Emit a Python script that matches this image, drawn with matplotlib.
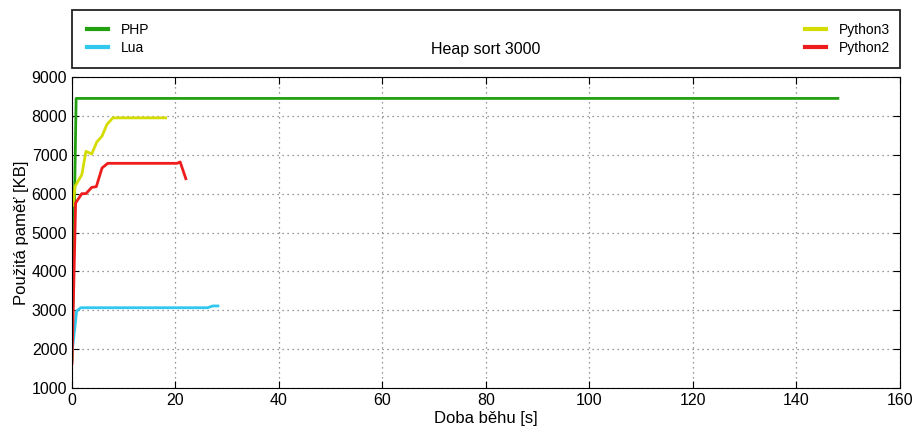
import matplotlib
matplotlib.use("Agg")
import matplotlib.pyplot as plt
from matplotlib.patches import Rectangle

plt.rcParams['font.family'] = ['Liberation Sans', 'DejaVu Sans']

# runtime [s] vs used memory [KB]
php_t = [0.0, 0.8, 148.0]
php_m = [1700, 8450, 8450]

lua_t = [0.1, 0.9, 1.7, 26.2, 27.2, 28.2]
lua_m = [2010, 2980, 3065, 3065, 3110, 3110]

py3_t = [0.2, 0.6, 1.9, 2.7, 3.8, 4.8, 5.8, 6.75, 7.9, 18.1]
py3_m = [5700, 6190, 6490, 7090, 7020, 7330, 7480, 7780, 7950, 7950]

py2_t = [0.0, 0.7, 1.9, 2.7, 3.8, 4.7, 5.8, 6.9, 20.3, 20.9, 22.0]
py2_m = [1630, 5760, 6000, 6000, 6160, 6180, 6660, 6780, 6780, 6815, 6385]

fig = plt.figure(figsize=(9.16, 4.28), dpi=100)
ax = fig.add_axes([0.0786, 0.0935, 0.9039, 0.7265])

l_php, = ax.plot(php_t, php_m, color='#22a010', lw=2, label='PHP')
l_lua, = ax.plot(lua_t, lua_m, color='#30c8ee', lw=2, label='Lua')
l_py3, = ax.plot(py3_t, py3_m, color='#d4dc00', lw=2, label='Python3')
l_py2, = ax.plot(py2_t, py2_m, color='#ee1c1c', lw=2, label='Python2')

ax.set_xlim(0, 160)
ax.set_ylim(1000, 9000)
ax.set_xticks(range(0, 161, 20))
ax.set_yticks(range(1000, 9001, 1000))
ax.tick_params(direction='in', top=True, right=True, labelsize=11.5, length=5)
ax.grid(True, linestyle=(0, (1, 3)), color='#777777', lw=0.9)
ax.set_xlabel('Doba běhu [s]', fontsize=12, labelpad=2)
ax.set_ylabel('Použitá paměť [KB]', fontsize=12, labelpad=2)

# legend box above the plot
box = Rectangle((0, 1.029), 1, 0.186, transform=ax.transAxes, fill=False,
                edgecolor='#222222', lw=1.3, clip_on=False)
ax.add_patch(box)

leg_opts = dict(frameon=False, fontsize=10, handlelength=1.5, handletextpad=0.95,
                labelspacing=0.25, borderpad=0, borderaxespad=0)
leg1 = ax.legend([l_php, l_lua], ['PHP', 'Lua'], loc='upper left',
                 bbox_to_anchor=(0.018, 1.173), **leg_opts)
ax.add_artist(leg1)
leg2 = ax.legend([l_py3, l_py2], ['Python3', 'Python2'], loc='upper right',
                 bbox_to_anchor=(0.988, 1.173), **leg_opts)
for lg in (leg1, leg2):
    for h in lg.legend_handles:
        h.set_linewidth(3)

ax.text(0.5, 1.087, 'Heap sort 3000', transform=ax.transAxes, ha='center', va='center',
        fontsize=11.5)

fig.savefig('out.png', dpi=100)
